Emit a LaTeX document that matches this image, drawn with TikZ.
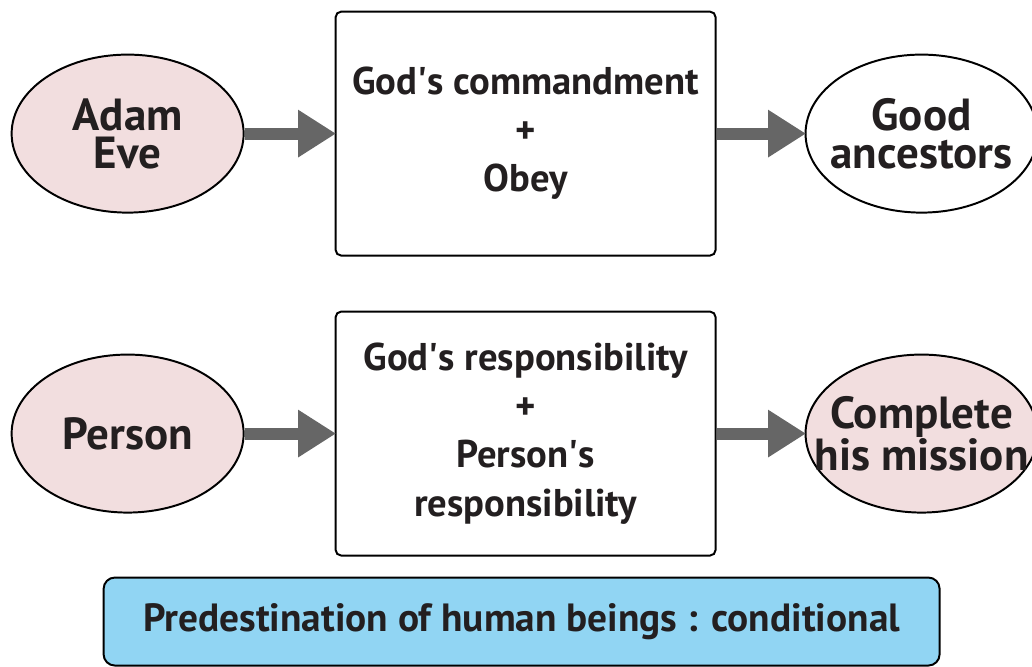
\documentclass[tikz,border=0pt]{standalone}
\usepackage{xcolor}
\usepackage{fontspec}
\setmainfont{PT Sans}
\usepackage{tikz}
\usetikzlibrary{shapes,arrows,arrows.meta,positioning}

\definecolor{pinkfill}{RGB}{242,222,223}
\definecolor{bluefill}{RGB}{145,213,243}
\definecolor{arrowgray}{RGB}{102,102,102}
\definecolor{textdark}{RGB}{35,31,32}

\begin{document}
\begin{tikzpicture}[node distance=2.2cm, thick, text=textdark]
    % Stili dei nodi
    \tikzstyle{being}=[ellipse, minimum width=5.8cm, minimum height=3.95cm, inner sep=-1.5cm, draw=black, line width=1.4pt, align=center, font=\fontsize{32}{27}\selectfont\bfseries]
    \tikzstyle{stage}=[rectangle, rounded corners=4pt, minimum width=9.5cm, minimum height=6.1cm, draw=black, line width=1.4pt, align=center, font=\fontsize{27.5}{34.5}\selectfont\bfseries]
    \tikzstyle{arrow}=[-{Triangle[length=27pt,width=32pt]}, draw=arrowgray, line width=8.5pt, shorten >=-1pt]

    \useasboundingbox (0,0) rectangle (25.8,-16.65);

    % Nodi
    \node (law) [stage] at (13.14,-3.34) {God\textquotesingle s commandment\\+\\Obey};
    \node (adam) [being, fill=pinkfill, left=2.25cm of law] {Adam\\Eve};
    \node (good) [being, right=of law] {Good\\ancestors};

    \node (resp) [stage, below=1.35cm of law] {God\textquotesingle s responsibility\\+\\Person\textquotesingle s\\responsibility};
    \node (person) [being, fill=pinkfill, left=2.25cm of resp] {Person};
    \node (mission) [being, fill=pinkfill, right=of resp] {Complete\\his mission};

    \node (result) [rectangle, rounded corners=8pt, draw=black, line width=1.4pt, fill=bluefill, minimum width=20.9cm, minimum height=2.2cm, font=\fontsize{28}{32}\selectfont\bfseries, below=0.5cm of resp, xshift=-0.1cm] {Predestination of human beings : conditional};

    % Collegamenti
    \draw [arrow] (adam) -- (law);
    \draw [arrow] (law) -- (good);
    \draw [arrow] (person) -- (resp);
    \draw [arrow] (resp) -- (mission);
\end{tikzpicture}
\end{document}
